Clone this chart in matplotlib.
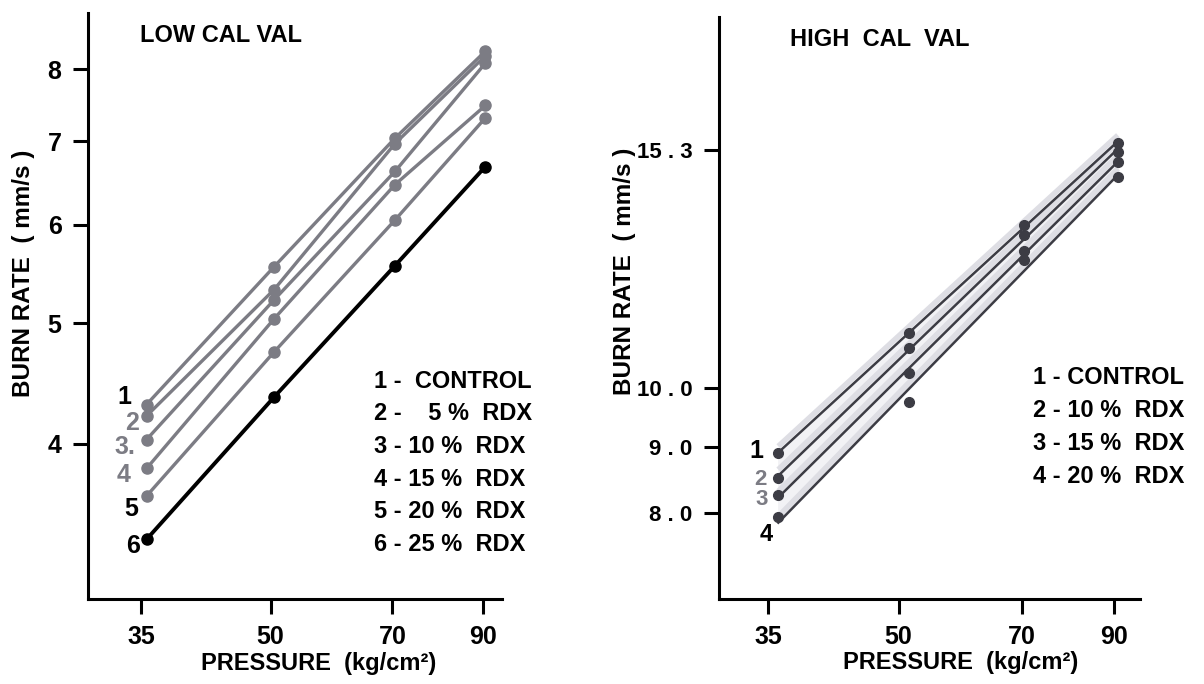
import numpy as np
import matplotlib
matplotlib.use('Agg')
import matplotlib.pyplot as plt
from matplotlib.ticker import FixedLocator, NullLocator

# ===== Data =====
pressure = [35.5, 50.5, 70.5, 90.5]

low_labels = ['1', '2', '3.', '4', '5', '6']
low_legend = ['1 -  CONTROL', '2 -    5 %  RDX', '3 - 10 %  RDX',
              '4 - 15 %  RDX', '5 - 20 %  RDX', '6 - 25 %  RDX']
low_1 = [4.30, 5.55, 7.04, 8.27]
low_2 = [4.21, 5.32, 6.97, 8.20]
low_3 = [4.03, 5.22, 6.62, 8.09]
low_4 = [3.82, 5.04, 6.46, 7.48]
low_5 = [3.63, 4.74, 6.05, 7.31]
low_6 = [3.35, 4.36, 5.56, 6.68]

high_pressure = [36.0, 51.5, 70.5, 91.0]
high_labels = ['1', '2', '3', '4']
high_legend = ['1 - CONTROL', '2 - 10 %  RDX', '3 - 15 %  RDX', '4 - 20 %  RDX']
high_1 = [8.91, 11.03, 13.38, 15.50]
high_2 = [8.52, 10.74, 13.14, 15.24]
high_3 = [8.26, 10.27, 12.77, 14.98]
high_4 = [7.94, 9.75, 12.57, 14.57]

low_yticks = [4, 5, 6, 7, 8]
low_yticklabels = ['4', '5', '6', '7', '8']
high_yticks = [8.0, 9.0, 10.0, 15.3]
high_yticklabels = ['8 . 0', '9 . 0', '10 . 0', '15 . 3']
xticks = [35, 50, 70, 90]

GREY = '#7c7c84'
DARK = '#3c3c44'
plt.rcParams['font.family'] = ['Liberation Sans', 'DejaVu Sans']
plt.rcParams['font.weight'] = 'bold'
FS = 17


def style_axes(ax, xlim, ylim, yticks, yticklabels):
    ax.set_xscale('log')
    ax.set_yscale('log')
    ax.set_xlim(*xlim)
    ax.set_ylim(*ylim)
    for s in ['top', 'right']:
        ax.spines[s].set_visible(False)
    for s in ['left', 'bottom']:
        ax.spines[s].set_linewidth(2.2)
    ax.xaxis.set_major_locator(FixedLocator(xticks))
    ax.xaxis.set_minor_locator(NullLocator())
    ax.set_xticklabels([str(t) for t in xticks])
    ax.yaxis.set_major_locator(FixedLocator(yticks))
    ax.yaxis.set_minor_locator(NullLocator())
    ax.set_yticklabels(yticklabels)
    ax.tick_params(direction='out', length=11, width=2.2, labelsize=18, pad=8)
    for lab in ax.get_xticklabels() + ax.get_yticklabels():
        lab.set_fontweight('bold')
    ax.set_xlabel('PRESSURE  (kg/cm²)', fontsize=FS, fontweight='bold')
    ax.set_ylabel('BURN RATE  ( mm/s )', fontsize=17.5, fontweight='bold')


fig = plt.figure(figsize=(12.04, 6.84), dpi=100)

# ----- Left panel: low calorific value -----
ax1 = fig.add_axes([0.0731, 0.1243, 0.344, 0.857])
low_series = [low_1, low_2, low_3, low_4, low_5, low_6]
for i, vals in enumerate(low_series):
    col = 'black' if i == 5 else GREY
    ax1.plot(pressure, vals, '-o', color=col, lw=2.4 if i < 5 else 2.8,
             ms=8, zorder=3 if i == 5 else 2)
style_axes(ax1, (30.2, 94.8), (3.0, 8.88), low_yticks, low_yticklabels)
ax1.yaxis.set_label_coords(-0.128, 0.556)
ax1.xaxis.set_label_coords(0.556, -0.09)
ax1.text(0.125, 0.95, 'LOW CAL VAL', transform=ax1.transAxes, fontsize=FS,
         fontweight='bold')
label_pos = [(0.07, 0.332), (0.09, 0.288), (0.065, 0.248), (0.07, 0.2),
             (0.087, 0.142), (0.092, 0.079)]
label_col = ['black', GREY, GREY, GREY, 'black', 'black']
for txt, (x, y), c in zip(low_labels, label_pos, label_col):
    ax1.text(x, y, txt, transform=ax1.transAxes, fontsize=18,
             fontweight='bold', color=c)
for k, txt in enumerate(low_legend):
    ax1.text(0.69, 0.36 - k * 0.0555, txt, transform=ax1.transAxes,
             fontsize=FS, fontweight='bold')

# ----- Right panel: high calorific value -----
ax2 = fig.add_axes([0.597, 0.1243, 0.350, 0.851])
high_series = [high_1, high_2, high_3, high_4]
lx = np.log(high_pressure)
fit_x = np.array([high_pressure[0], high_pressure[-1]])
fits = [np.polyfit(lx, np.log(v), 1) for v in high_series]
fit_lines = [np.exp(np.polyval(f, np.log(fit_x))) for f in fits]
ax2.fill_between(fit_x, fit_lines[3], fit_lines[0], color='#f2f2f5', zorder=1)
for fl in fit_lines:
    ax2.plot(fit_x, fl * 1.011, color='#dedee4', lw=4, solid_capstyle='butt', zorder=2)
    ax2.plot(fit_x, fl, color=DARK, lw=1.8, zorder=3)
for vals in high_series:
    ax2.plot(high_pressure, vals, 'o', color=DARK, ms=7, zorder=4)
style_axes(ax2, (30.6, 96.7), (6.86, 19.4), high_yticks, high_yticklabels)
for lab in ax2.get_yticklabels():
    lab.set_fontsize(16)
ax2.yaxis.set_label_coords(-0.197, 0.563)
ax2.xaxis.set_label_coords(0.575, -0.09)
ax2.text(0.17, 0.95, 'HIGH  CAL  VAL', transform=ax2.transAxes, fontsize=FS,
         fontweight='bold')
hlabel_pos = [(0.072, 0.243), (0.083, 0.195), (0.086, 0.162), (0.098, 0.1)]
hlabel_col = ['black', GREY, GREY, 'black']
hlabel_fs = [18, 16, 16, 17]
for txt, (x, y), c, fs in zip(high_labels, hlabel_pos, hlabel_col, hlabel_fs):
    ax2.text(x, y, txt, transform=ax2.transAxes, fontsize=fs,
             fontweight='bold', color=c)
for k, txt in enumerate(high_legend):
    ax2.text(0.745, 0.37 - k * 0.057, txt, transform=ax2.transAxes,
             fontsize=FS, fontweight='bold')

fig.savefig('out.png', dpi=100)
